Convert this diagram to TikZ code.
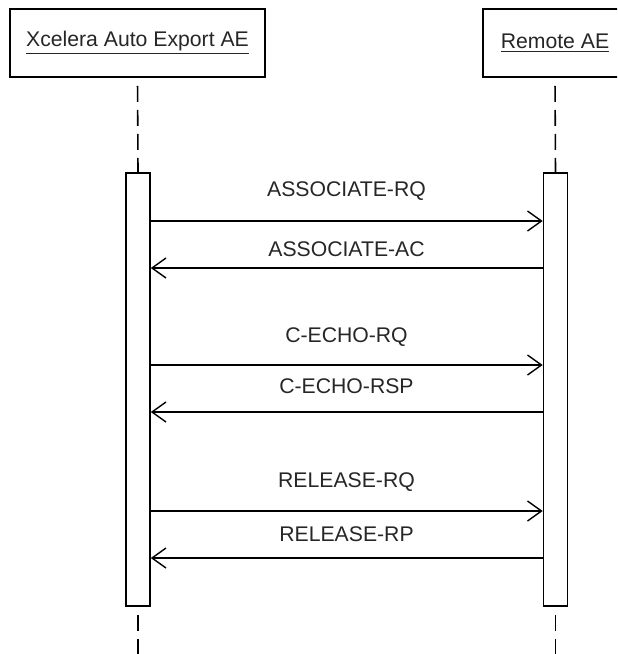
\documentclass[tikz,border=0pt]{standalone}
\usepackage{fontspec}
\setmainfont{Liberation Sans}
\usetikzlibrary{arrows.meta}

\begin{document}
\begin{tikzpicture}[
        x=0.5pt, y=-0.5pt,
        every node/.style={font=\fontsize{10.6}{12}\selectfont, text=black!85},
        actor/.style={draw, line width=0.9pt, minimum height=34pt, inner sep=0pt},
        activation/.style={draw, line width=0.8pt, minimum width=12pt, minimum height=216.5pt, inner sep=0pt},
        lifeline/.style={line width=0.8pt, dash pattern=on 8pt off 4pt, dash phase=8pt},
        msg/.style={line width=0.7pt, -{Straight Barb[length=7pt, width=10pt, line width=0.7pt]}}
    ]
        % Fix the frame of the picture
        \clip (0,0) rectangle (617,654);

        % The two actors at the top
        \node[actor, minimum width=127.5pt] (xcelera) at (137.5, 43) {\underline{Xcelera Auto Export AE}};
        \node[actor, minimum width=72pt] (remote) at (555, 43) {\underline{Remote AE}};

        % Activation bars
        \node[activation] (actX) at (138, 389.5) {};
        \node[activation] (actR) at (555.5, 389.5) {};

        % Dashed lifelines
        \coordinate (endX) at (138, 654);
        \coordinate (endR) at (555.5, 654);
        \draw[lifeline] (xcelera.south) -- (actX.north);
        \draw[lifeline] (remote.south) -- (actR.north);
        \draw[lifeline] (actX.south) -- (endX);
        \draw[lifeline] (actR.south) -- (endR);

        % Messages: requests go right, answers come back left
        \foreach \ly/\ay/\txt in {191/221/ASSOCIATE-RQ, 337/365/C-ECHO-RQ, 482/511/RELEASE-RQ} {
            \draw[msg] (actX.east |- 0,\ay) -- (actR.west |- 0,\ay);
            \node at (346.5, \ly) {\txt};
        }
        \foreach \ly/\ay/\txt in {249.5/268/ASSOCIATE-AC, 386/412/C-ECHO-RSP, 534/558/RELEASE-RP} {
            \draw[msg] (actR.west |- 0,\ay) -- (actX.east |- 0,\ay);
            \node at (346.5, \ly) {\txt};
        }
    \end{tikzpicture}
\end{document}
